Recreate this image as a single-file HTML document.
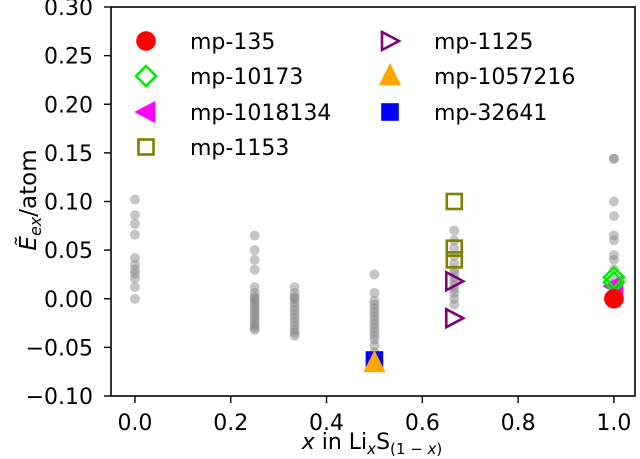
<!DOCTYPE html>
<html><head><meta charset="utf-8"><style>
html,body{margin:0;padding:0;background:#fff;width:640px;height:459px;overflow:hidden}
svg text{font-family:"DejaVu Sans","Liberation Sans",sans-serif;fill:#000}
</style></head><body>
<svg id="chart" width="640" height="459" viewBox="0 0 640 459" xmlns="http://www.w3.org/2000/svg"></svg>
<script>
const xTicks=[0.0,0.2,0.4,0.6,0.8,1.0];
const xTickLabels=["0.0","0.2","0.4","0.6","0.8","1.0"];
const yTicks=[-0.10,-0.05,0.00,0.05,0.10,0.15,0.20,0.25,0.30];
const yTickLabels=["\u22120.10","\u22120.05","0.00","0.05","0.10","0.15","0.20","0.25","0.30"];
const grayY0=[0.102,0.086,0.077,0.066,0.042,0.035,0.030,0.026,0.021,0.012,0.0];
const grayY25=[0.065,0.050,0.040,0.030,0.012,0.006,0.002,0.0,-0.003,-0.006,-0.009,-0.012,-0.015,-0.018,-0.021,-0.024,-0.027,-0.030,-0.032];
const grayY33=[0.012,0.006,0.002,0.0,-0.004,-0.008,-0.012,-0.016,-0.020,-0.024,-0.028,-0.032,-0.035,-0.038];
const grayY50=[0.025,0.006,-0.002,-0.006,-0.010,-0.014,-0.018,-0.022,-0.026,-0.030,-0.034,-0.038,-0.042,-0.048,-0.055,-0.062,-0.066];
const grayY67=[0.070,0.060,0.052,0.044,0.036,0.030,0.026,0.022,0.018,0.014,0.010,0.006,0.0,-0.006];
const grayY100=[0.144,0.144,0.100,0.085,0.065,0.060,0.045,0.040,0.030,0.020,0.015];
const series=[
 {name:"mp-32641",marker:"square",color:"#0000ff",fill:true,xs:[0.5],ys:[-0.063]},
 {name:"mp-1057216",marker:"tri-up",color:"#ffa500",fill:true,xs:[0.5],ys:[-0.066]},
 {name:"mp-1018134",marker:"tri-left",color:"#ff00ff",fill:true,xs:[1.0],ys:[0.013]},
 {name:"mp-10173",marker:"diamond",color:"#00ee00",fill:false,xs:[1.0,1.0],ys:[0.022,0.017]},
 {name:"mp-1153",marker:"square",color:"#808000",fill:false,xs:[0.6667,0.6667,0.6667],ys:[0.100,0.052,0.040]},
 {name:"mp-1125",marker:"tri-right",color:"#800080",fill:false,xs:[0.6667,0.6667],ys:[0.018,-0.020]},
 {name:"mp-135",marker:"circle",color:"#ff0000",fill:true,xs:[1.0],ys:[0.0]}
];
const legendOrder=["mp-135","mp-10173","mp-1018134","mp-1153","mp-1125","mp-1057216","mp-32641"];
const NS="http://www.w3.org/2000/svg";
const svg=document.getElementById('chart');
const L=111,R=635,T=7,B=396,xmin=-0.050,xmax=1.044,ymin=-0.10,ymax=0.30;
const X=v=>L+(v-xmin)/(xmax-xmin)*(R-L);
const Y=v=>B-(v-ymin)/(ymax-ymin)*(B-T);
function mk(tag,attrs,parent){const e=document.createElementNS(NS,tag);for(const k in attrs)e.setAttribute(k,attrs[k]);(parent||svg).appendChild(e);return e;}
function marker(type,cx,cy,color,fill,parent){
 let e;
 const st={stroke:color,'stroke-width':2.6,fill:fill?color:'none'};
 if(type==='circle')e=mk('circle',Object.assign({cx,cy,r:8.5},st),parent);
 else if(type==='square')e=mk('rect',Object.assign({x:cx-7.5,y:cy-7.5,width:15,height:15},st),parent);
 else{let p;
  if(type==='diamond')p=[[cx,cy-10],[cx+10,cy],[cx,cy+10],[cx-10,cy]];
  if(type==='tri-left')p=[[cx-9,cy],[cx+8,cy-9],[cx+8,cy+9]];
  if(type==='tri-right')p=[[cx+9,cy],[cx-8,cy-9],[cx-8,cy+9]];
  if(type==='tri-up')p=[[cx,cy-10],[cx+9,cy+8],[cx-9,cy+8]];
  e=mk('polygon',Object.assign({points:p.map(q=>q.join(',')).join(' ')},st),parent);}
 return e;
}
const gp=mk('g',{});


const cols=[[0,grayY0],[0.25,grayY25],[0.3333,grayY33],[0.5,grayY50],[0.6667,grayY67],[1.0,grayY100]];
cols.forEach(([xv,ys])=>ys.forEach(yv=>{
 const c=mk('circle',{cx:X(xv),cy:Y(yv),r:5,fill:'#808080','fill-opacity':0.45},gp);
 
 
}));
series.forEach(s=>{
 const g=mk('g',{});
 
 
 s.xs.forEach((xv,i)=>{const m=marker(s.marker,X(xv),Y(s.ys[i]),s.color,s.fill,g);
  
  });
});
const fr=mk('rect',{x:L,y:T,width:R-L,height:B-T,fill:'none',stroke:'#000','stroke-width':1.6});


xTicks.forEach((v,i)=>{
 mk('line',{x1:X(v),x2:X(v),y1:B,y2:B+7,stroke:'#000','stroke-width':1.4});
 const t=mk('text',{x:X(v),y:430,'font-size':22,'text-anchor':'middle'});t.textContent=xTickLabels[i];
 
 
});
yTicks.forEach((v,i)=>{
 mk('line',{x1:L-7,x2:L,y1:Y(v),y2:Y(v),stroke:'#000','stroke-width':1.4});
 const t=mk('text',{x:L-18,y:Y(v)+8,'font-size':22,'text-anchor':'end'});t.textContent=yTickLabels[i];
 
 
});
const xt=mk('text',{x:372,y:449,'font-size':22,'text-anchor':'middle'});
xt.innerHTML='<tspan font-style="italic">x</tspan> in Li<tspan font-size="15" dy="5" font-style="italic">x</tspan><tspan dy="-5">S</tspan><tspan font-size="15" dy="5">(1 \u2212 </tspan><tspan font-size="15" font-style="italic">x</tspan><tspan font-size="15">)</tspan>';


const yt=mk('text',{x:0,y:0,'font-size':23,'text-anchor':'middle',transform:'translate(36,200) rotate(-90)'});
yt.innerHTML='<tspan font-style="italic">\u1EBC</tspan><tspan font-size="16" dy="5" font-style="italic">ex</tspan><tspan dy="-5">/atom</tspan>';


const lg=mk('g',{});


const legendPos=[[146,41],[146,76],[146,112],[146,147],[390,41],[390,76],[390,112]];
legendOrder.forEach((nm,i)=>{
 const s=series.find(q=>q.name===nm);
 const [mx,my]=legendPos[i];
 const e=mk('g',{},lg);
 
 
 marker(s.marker,mx,my,s.color,s.fill,e);
 const t=mk('text',{x:mx+44,y:my+8,'font-size':22},e);t.textContent=s.name;
});
</script>
</body></html>
